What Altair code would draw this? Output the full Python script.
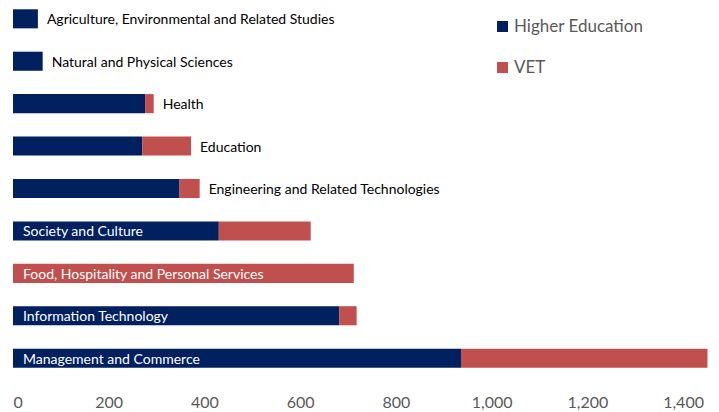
import altair as alt
import pandas as pd

categories = [
    "Agriculture, Environmental and Related Studies",
    "Natural and Physical Sciences",
    "Health",
    "Education",
    "Engineering and Related Technologies",
    "Society and Culture",
    "Food, Hospitality and Personal Services",
    "Information Technology",
    "Management and Commerce",
]
higher_ed = [52, 62, 276, 270, 348, 430, 0, 682, 936]
vet = [0, 0, 18, 102, 42, 192, 712, 36, 515]
series = ["Higher Education", "VET"]
colors = ["#002060", "#C0504D"]
tick_values = [0, 200, 400, 600, 800, 1000, 1200, 1400]

rows = []
for c, h, v in zip(categories, higher_ed, vet):
    rows.append({"category": c, "series": "Higher Education", "value": h, "ord": 0})
    rows.append({"category": c, "series": "VET", "value": v, "ord": 1})
df = pd.DataFrame(rows)
tot = pd.DataFrame({"category": categories,
                    "total": [h + v for h, v in zip(higher_ed, vet)]})

FONT = "Lato"
xscale = alt.Scale(domain=[0, 1450], nice=False)
yscale = alt.Scale(paddingInner=0.55, paddingOuter=0.03)

bars = alt.Chart(df).mark_bar().encode(
    x=alt.X("value:Q", stack="zero", scale=xscale,
            axis=alt.Axis(values=tick_values, format=",.0f", title=None, grid=False,
                          domain=False, ticks=False, labelFontSize=16,
                          labelColor="#595959", labelFont=FONT, labelPadding=25)),
    y=alt.Y("category:N", sort=categories, scale=yscale, axis=None),
    color=alt.Color("series:N", scale=alt.Scale(domain=series, range=colors),
                    legend=alt.Legend(title=None, orient="none", legendX=481, legendY=10,
                                      symbolType="square", symbolSize=121,
                                      symbolStrokeWidth=0,
                                      labelFontSize=17, labelColor="#595959",
                                      labelFont=FONT, rowPadding=23, labelOffset=3)),
    order=alt.Order("ord:Q"),
)

outside = alt.Chart(tot).transform_filter("datum.total < 500").mark_text(
    align="left", baseline="middle", dx=9, dy=1.5, fontSize=14, font=FONT, color="#000000"
).encode(
    x=alt.X("total:Q", scale=xscale),
    y=alt.Y("category:N", sort=categories, scale=yscale),
    text="category:N",
)

inside = alt.Chart(tot).transform_filter("datum.total >= 500").mark_text(
    align="left", baseline="middle", dx=10, dy=1.5, fontSize=14, font=FONT, color="#FFFFFF"
).encode(
    x=alt.value(0),
    y=alt.Y("category:N", sort=categories, scale=yscale),
    text="category:N",
)

chart = alt.layer(bars, outside, inside).properties(
    width=694, height=361,
    padding={"left": 5, "top": 0, "right": 0, "bottom": 0},
).configure_view(stroke=None)

chart.save("out.html", embed_options={"renderer": "svg", "actions": False})
